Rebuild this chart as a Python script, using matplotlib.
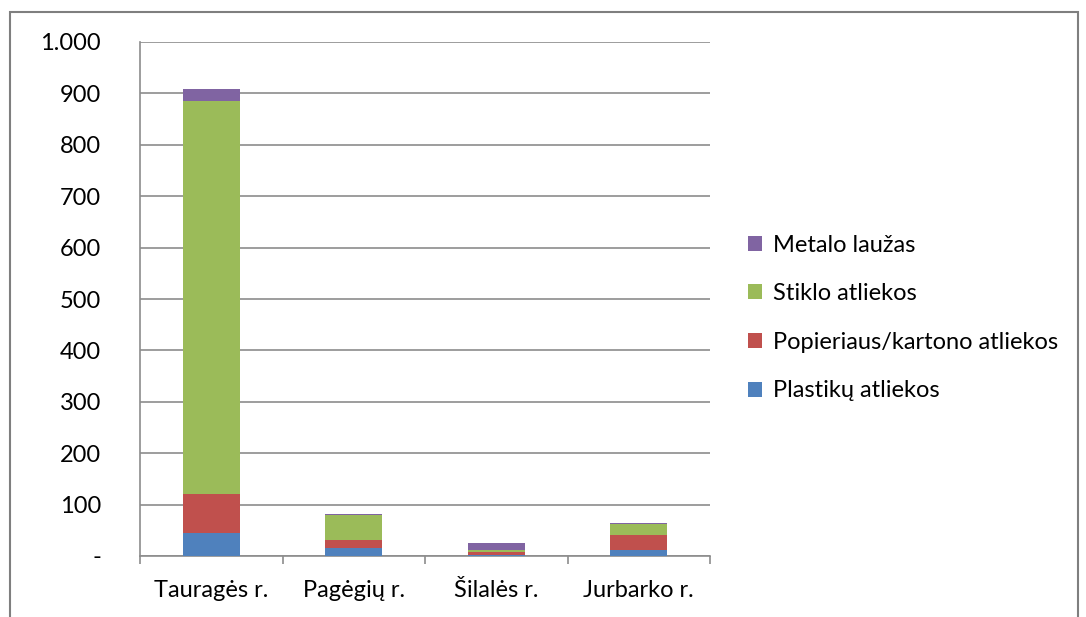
import matplotlib.pyplot as plt
from matplotlib.patches import Rectangle
from matplotlib.ticker import FuncFormatter
import numpy as np

plt.rcParams['font.family'] = ['Lato', 'DejaVu Sans']

regions = ['Tauragės r.', 'Pagėgių r.', 'Šilalės r.', 'Jurbarko r.']
plastikai = [45, 15, 2, 12]
popierius = [76, 17, 5, 28]
stiklas = [764, 48, 5, 22]
metalas = [23, 2, 13, 3]

series = [
    ('Plastikų atliekos', plastikai, '#4F81BD'),
    ('Popieriaus/kartono atliekos', popierius, '#C0504D'),
    ('Stiklo atliekos', stiklas, '#9BBB59'),
    ('Metalo laužas', metalas, '#8064A2'),
]

fig = plt.figure(figsize=(10.86, 6.17), dpi=100)
ax = fig.add_axes([140 / 1086, 1 - 556 / 617, 570 / 1086, 514 / 617])

x = np.arange(len(regions))
bottom = np.zeros(len(regions))
for name, vals, color in series:
    ax.bar(x, vals, width=0.4, bottom=bottom, color=color, label=name, zorder=3)
    bottom += np.array(vals)

ax.set_xlim(-0.5, len(regions) - 0.5)
ax.set_ylim(0, 1000)
ax.set_yticks(range(0, 1001, 100))
ax.yaxis.set_major_formatter(FuncFormatter(
    lambda v, p: '-' if v == 0 else f'{int(v):,}'.replace(',', '.')))
ax.grid(axis='y', color='#8c8c8c', linewidth=1.2, zorder=0)

ax.set_xticks(x)
ax.set_xticklabels(regions)
ax.set_xticks(np.arange(-0.5, len(regions)), minor=True)
ax.tick_params(axis='x', which='major', length=0, pad=17, labelsize=17)
ax.tick_params(axis='x', which='minor', length=6, color='#8c8c8c', width=1.2)
ax.tick_params(axis='y', length=0, pad=28, labelsize=17)

for s in ['top', 'right']:
    ax.spines[s].set_visible(False)
for s in ['left', 'bottom']:
    ax.spines[s].set_color('#8c8c8c')
    ax.spines[s].set_linewidth(1.2)

handles, labels = ax.get_legend_handles_labels()
ax.legend(handles[::-1], labels[::-1], loc='center left',
          bbox_to_anchor=(727 / 1086, 1 - 318 / 617), bbox_transform=fig.transFigure,
          frameon=False, fontsize=17, handlelength=0.6, handleheight=0.6,
          labelspacing=1.17, handletextpad=0.45)

fig.patches.append(Rectangle((10 / 1086, -0.01), 1068 / 1086, 1 - 12 / 617 + 0.01,
                             transform=fig.transFigure, fill=False,
                             edgecolor='#7f7f7f', linewidth=1.5))

fig.savefig('out.png', dpi=100)
